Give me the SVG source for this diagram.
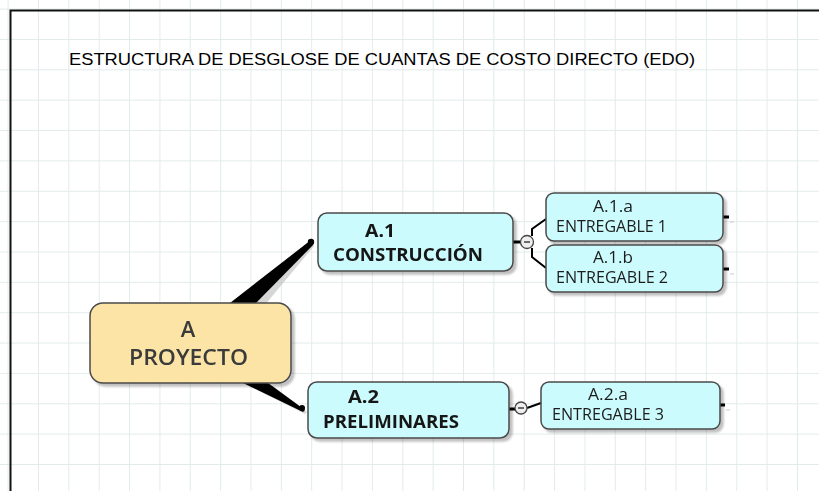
<svg xmlns="http://www.w3.org/2000/svg" width="819" height="491" viewBox="0 0 819 491">
<defs>
<pattern id="grid" x="7.6" y="8.6" width="30.36" height="30.36" patternUnits="userSpaceOnUse">
<path d="M0 0 H30.36 M0 0 V30.36" fill="none" stroke="#e2ebeb" stroke-width="2"/>
</pattern>
<filter id="sh" x="-10%" y="-10%" width="130%" height="140%">
<feGaussianBlur in="SourceAlpha" stdDeviation="1.2"/>
<feOffset dx="3" dy="3" result="b"/>
<feComponentTransfer><feFuncA type="linear" slope="0.25"/></feComponentTransfer>
<feMerge><feMergeNode/><feMergeNode in="SourceGraphic"/></feMerge>
</filter>
</defs>
<style>
.node{stroke:#4a4a4a;stroke-width:1.5}
.root{fill:#fbe4a5}
.cyan{fill:#ccfbfd}
.t{font-family:"Open Sans","DejaVu Sans",sans-serif}
.big{font-size:22px;font-weight:600;fill:#3a3a3a}
.mid{font-size:18.5px;font-weight:700;fill:#151515}
.small{font-size:16px;fill:#1c1c1c}
.title{font-family:"Liberation Sans",Arial,sans-serif;font-size:16px;fill:#000}
.br{fill:none;stroke:#000;stroke-width:2}
.stub{stroke:#000;stroke-width:3}
.col{fill:#eeeeee;stroke:#444;stroke-width:1.3}
</style>
<rect width="819" height="491" fill="#fff"/>
<rect width="819" height="491" fill="url(#grid)"/>
<path d="M10.5 491 V10.5 H819" fill="none" stroke="#111" stroke-width="2"/>
<text class="title" x="69" y="65" textLength="626" lengthAdjust="spacingAndGlyphs">ESTRUCTURA DE DESGLOSE DE CUANTAS DE COSTO DIRECTO (EDO)</text>

<g id="connectors">
<path d="M236 306 L264 306 L314 246 L310 241 Z" fill="#bbb" opacity="0.6"/>
<path d="M230 303 L256 303 L313 245 L311 240 Z" fill="#000"/>
<circle cx="311" cy="242" r="3.2" fill="#000"/>
<path d="M249 386 L273 386 L307 412 L305 414 Z" fill="#bbb" opacity="0.6"/>
<path d="M243 383 L268 383 L305 410 L303 412 Z" fill="#000"/>
<circle cx="302" cy="408" r="3" fill="#000"/>
<line class="stub" x1="513" y1="242" x2="521" y2="242"/>
<path class="br" d="M532 236 V229 L546 219"/>
<path class="br" d="M532 248 V257 L546 268"/>
<circle class="col" cx="527" cy="242" r="6.5"/>
<line x1="524" y1="242" x2="530" y2="242" stroke="#333" stroke-width="1.4"/>
<line class="stub" x1="509" y1="409" x2="515" y2="409"/>
<path class="br" d="M527 408 L541 403"/>
<circle class="col" cx="521" cy="408" r="6"/>
<line x1="518" y1="408" x2="524" y2="408" stroke="#333" stroke-width="1.4"/>
<line class="stub" x1="723" y1="217" x2="729" y2="217"/>
<line class="stub" x1="723" y1="269" x2="729" y2="269"/>
<line class="stub" x1="720" y1="405" x2="725" y2="405"/>
<line x1="730" y1="222" x2="734" y2="222" stroke="#ccc" stroke-width="1"/>
<line x1="730" y1="274" x2="734" y2="274" stroke="#ccc" stroke-width="1"/>
<line x1="726" y1="410" x2="730" y2="410" stroke="#ccc" stroke-width="1"/>
</g>

<g id="node-A" filter="url(#sh)">
<rect class="node root" x="90" y="303" width="201" height="80" rx="13"/>
<text class="t big" x="188" y="337" text-anchor="middle">A</text>
<text class="t big" x="129" y="365" textLength="119" lengthAdjust="spacingAndGlyphs">PROYECTO</text>
</g>

<g id="node-A1" filter="url(#sh)">
<rect class="node cyan" x="318" y="213" width="195" height="58" rx="9"/>
<text class="t mid" x="365" y="237" textLength="30" lengthAdjust="spacingAndGlyphs">A.1</text>
<text class="t mid" x="333" y="261" textLength="150" lengthAdjust="spacingAndGlyphs">CONSTRUCCIÓN</text>
</g>

<g id="node-A2" filter="url(#sh)">
<rect class="node cyan" x="308" y="382" width="201" height="56" rx="9"/>
<text class="t mid" x="348" y="403" textLength="31" lengthAdjust="spacingAndGlyphs">A.2</text>
<text class="t mid" x="323" y="428" textLength="136" lengthAdjust="spacingAndGlyphs">PRELIMINARES</text>
</g>

<g id="node-A1a" filter="url(#sh)">
<rect class="node cyan" x="546" y="193" width="177" height="48" rx="8"/>
<text class="t small" x="593" y="212" textLength="40" lengthAdjust="spacingAndGlyphs">A.1.a</text>
<text class="t small" x="556" y="232" textLength="111" lengthAdjust="spacingAndGlyphs">ENTREGABLE 1</text>
</g>

<g id="node-A1b" filter="url(#sh)">
<rect class="node cyan" x="546" y="245" width="177" height="47" rx="8"/>
<text class="t small" x="593" y="263" textLength="40" lengthAdjust="spacingAndGlyphs">A.1.b</text>
<text class="t small" x="556" y="283" textLength="112" lengthAdjust="spacingAndGlyphs">ENTREGABLE 2</text>
</g>

<g id="node-A2a" filter="url(#sh)">
<rect class="node cyan" x="541" y="382" width="179" height="47" rx="8"/>
<text class="t small" x="588" y="400" textLength="40" lengthAdjust="spacingAndGlyphs">A.2.a</text>
<text class="t small" x="552" y="420" textLength="112" lengthAdjust="spacingAndGlyphs">ENTREGABLE 3</text>
</g>
</svg>
